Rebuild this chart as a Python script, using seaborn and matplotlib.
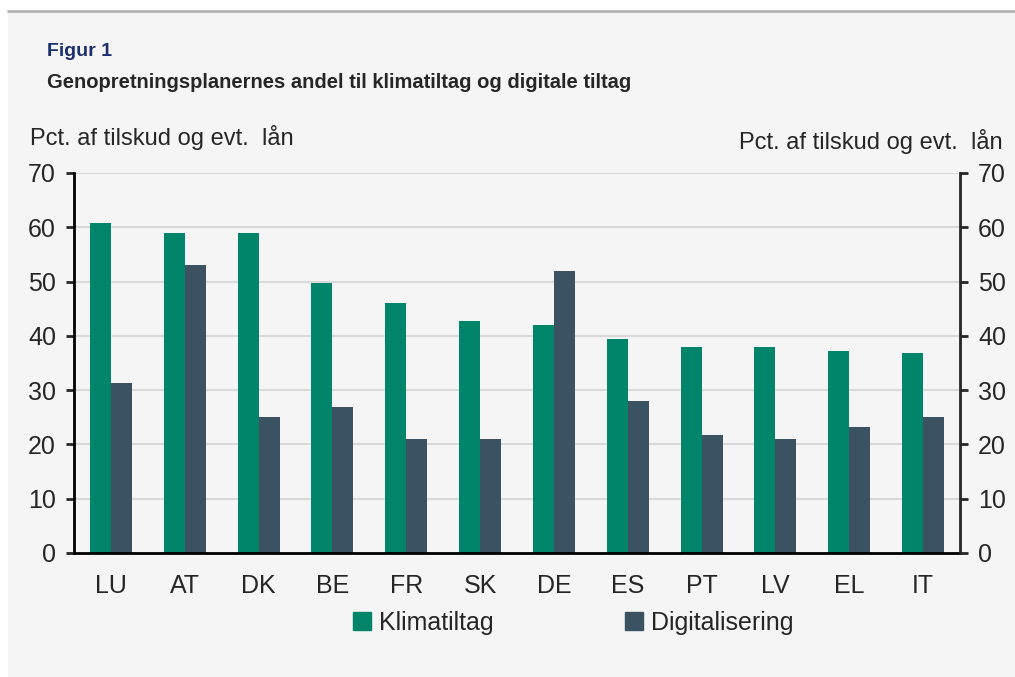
import matplotlib
matplotlib.use('Agg')
import matplotlib.pyplot as plt
import matplotlib.patches as mpatches
import matplotlib.lines as mlines
import numpy as np
import pandas as pd
import seaborn as sns

countries = ['LU', 'AT', 'DK', 'BE', 'FR', 'SK', 'DE', 'ES', 'PT', 'LV', 'EL', 'IT']
klima = [60.8, 58.9, 59.0, 49.8, 46.0, 42.7, 42.0, 39.4, 37.9, 37.9, 37.2, 36.8]
digital = [31.3, 53.0, 25.0, 26.9, 21.0, 21.0, 52.0, 28.0, 21.7, 21.0, 23.2, 25.0]
series = ['Klimatiltag', 'Digitalisering']
colors = ['#00856a', '#3b5263']
yticks = [0, 10, 20, 30, 40, 50, 60, 70]
unit = 'Pct. af tilskud og evt.  lån'

df = pd.DataFrame({
    'land': countries * 2,
    'serie': [series[0]] * len(countries) + [series[1]] * len(countries),
    'andel': klima + digital,
})

sns.set_style('white')
plt.rcParams['font.family'] = ['Liberation Sans', 'DejaVu Sans']

bg = '#f5f5f5'
fig = plt.figure(figsize=(10.15, 6.77), dpi=100)
fig.patch.set_facecolor('white')
fig.patches.append(mpatches.Rectangle((8 / 1015, 0), 1 - 8 / 1015, 1 - 12 / 677,
                                      transform=fig.transFigure, facecolor=bg,
                                      edgecolor='none', zorder=-10))
fig.lines.append(mlines.Line2D([8 / 1015, 1], [1 - 11 / 677] * 2, transform=fig.transFigure,
                               color='#b3b3b3', lw=2))

ax = fig.add_axes([74 / 1015, 1 - 553 / 677, (960 - 74) / 1015, (553 - 173) / 677])
ax.set_facecolor(bg)
sns.barplot(data=df, x='land', y='andel', hue='serie', palette=colors,
            width=0.57, saturation=1, linewidth=0, ax=ax, legend=False)
ax.set_xlim(-0.5, len(countries) - 0.5)
ax.set_ylim(0, 70)
ax.set_yticks(yticks)
ax.set_xlabel('')
ax.set_ylabel('')
ax.set_axisbelow(True)
for v in yticks[1:]:
    ax.axhline(v, color='#d9d9d9', lw=1.5, zorder=0)

for s in ['top', 'right']:
    ax.spines[s].set_visible(False)
for s in ['left', 'bottom']:
    ax.spines[s].set_linewidth(2)
    ax.spines[s].set_color('black')

ax.tick_params(axis='x', which='major', length=0, pad=15, labelsize=18)
ax.set_xticks(np.arange(-0.5, len(countries), 1), minor=True)
ax.tick_params(axis='x', which='minor', length=6, width=2, direction='out')
ax.tick_params(axis='y', length=6, width=2, direction='out', pad=7, labelsize=18)

ax2 = ax.twinx()
ax2.set_ylim(0, 70)
ax2.set_yticks(yticks)
for s in ['top', 'left', 'bottom']:
    ax2.spines[s].set_visible(False)
ax2.spines['right'].set_linewidth(2)
ax2.tick_params(axis='y', length=6, width=2, direction='out', pad=7, labelsize=18)

fig.text(47 / 1015, 1 - 52 / 677, 'Figur 1', color='#1a2f6b', fontsize=14,
         fontweight='bold', va='center')
fig.text(47 / 1015, 1 - 83 / 677, 'Genopretningsplanernes andel til klimatiltag og digitale tiltag',
         fontsize=14.5, fontweight='bold', va='center')
fig.text(30 / 1015, 1 - 138 / 677, unit, fontsize=17, va='center')
fig.text(1003 / 1015, 1 - 142 / 677, unit, fontsize=17, va='center', ha='right')

handles = [mpatches.Patch(color=c, label=l) for c, l in zip(colors, series)]
fig.legend(handles=handles, loc='center', bbox_to_anchor=(573 / 1015, 1 - 623 / 677),
           ncol=2, frameon=False, fontsize=18, handlelength=0.75, handleheight=0.75,
           handletextpad=0.3, columnspacing=5.25)

fig.savefig('out.png', dpi=100, facecolor=fig.get_facecolor())
